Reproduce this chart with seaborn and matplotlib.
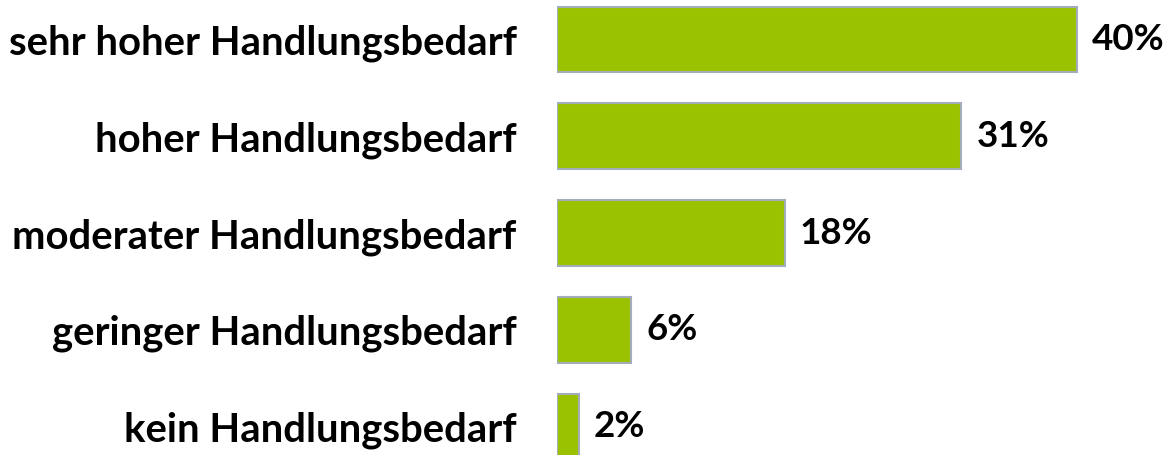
import numpy as np
import pandas as pd
import matplotlib
matplotlib.use('Agg')
import matplotlib.pyplot as plt
import seaborn as sns

# ---------------- data ----------------
categories = ['sehr hoher Handlungsbedarf', 'hoher Handlungsbedarf',
              'moderater Handlungsbedarf', 'geringer Handlungsbedarf',
              'kein Handlungsbedarf']
values = [40.0, 31.1, 17.5, 5.7, 1.7]
value_labels = ['40%', '31%', '18%', '6%', '2%']

df = pd.DataFrame({'kategorie': categories, 'anteil': values})

# ---------------- plotting ----------------
sns.set_style('white')
plt.rcParams['font.family'] = ['Lato', 'DejaVu Sans']

bar_green = '#9BC200'
edge_grey = '#A3ACBA'

fig = plt.figure(figsize=(11.68, 4.55), dpi=100)
ax = fig.add_axes([557 / 1168, 0, 611 / 1168, 1])

sns.barplot(data=df, y='kategorie', x='anteil', orient='h', color=bar_green,
            width=0.675, edgecolor=edge_grey, linewidth=1.5, saturation=1, ax=ax)

# value labels right of bars
for bar, lab in zip(ax.patches, value_labels):
    ax.annotate(lab, (bar.get_width(), bar.get_y() + bar.get_height() / 2),
                xytext=(15, 0), textcoords='offset pixels', va='center', ha='left',
                fontsize=26.5, fontweight='bold', color='black')

ax.set_xlim(0, 611 / 13)
ax.set_ylim(4.29, -0.405)
ax.set_xlabel('')
ax.set_ylabel('')
ax.set_xticks([])
ax.tick_params(axis='y', length=0, pad=29)
for t in ax.get_yticklabels():
    t.set_fontsize(28.8)
    t.set_fontweight('bold')
    t.set_color('black')
sns.despine(ax=ax, left=True, bottom=True)

plt.savefig('out.png', dpi=100)
